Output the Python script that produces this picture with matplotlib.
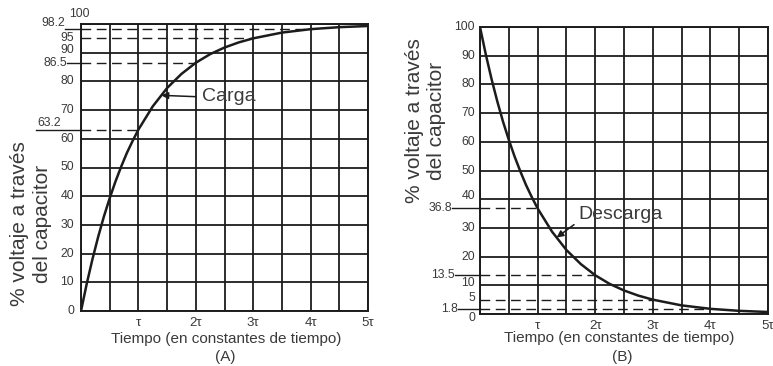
import matplotlib
matplotlib.use('Agg')
import matplotlib.pyplot as plt
import matplotlib.transforms as mtransforms
import numpy as np

plt.rcParams['font.family'] = ['Liberation Sans', 'DejaVu Sans']

# time in time constants, voltage in % of the source
t = [0, 0.1, 0.2, 0.3, 0.4, 0.5, 0.6, 0.7, 0.8, 0.9, 1.0,
     1.25, 1.5, 1.75, 2.0, 2.25, 2.5, 2.75, 3.0, 3.5, 4.0, 4.5, 5.0]
charge = [0, 9.5, 18.1, 25.9, 33.0, 39.3, 45.1, 50.3, 55.1, 59.3, 63.2,
          71.3, 77.7, 82.6, 86.5, 89.5, 91.8, 93.6, 95.0, 97.0, 98.2, 98.9, 99.3]
discharge = [100, 90.5, 81.9, 74.1, 67.0, 60.7, 54.9, 49.7, 44.9, 40.7, 36.8,
             28.7, 22.3, 17.4, 13.5, 10.5, 8.2, 6.4, 5.0, 3.0, 1.8, 1.1, 0.7]

# marked points (time constant, %)
charge_marks_t = [1, 2, 3, 4]
charge_marks_v = [63.2, 86.5, 95, 98.2]
discharge_marks_t = [1, 2, 3, 4]
discharge_marks_v = [36.8, 13.5, 5, 1.8]

x_ticks = [1, 2, 3, 4, 5]
x_tick_labels = ['τ', '2τ', '3τ', '4τ', '5τ']
y_ticks = [0, 10, 20, 30, 40, 50, 60, 70, 80, 90, 100]

LINE = '#1c1c1c'
TEXT = '#3a3a3a'
W, H = 773, 366
TICK_FS = 8.8

fig = plt.figure(figsize=(W / 100, H / 100), dpi=100)
ax_a = fig.add_axes([81 / W, 55 / H, 287 / W, 287 / H])
ax_b = fig.add_axes([480 / W, 52 / H, 288 / W, 287 / H])


def setup(ax):
    ax.set_xlim(0, 5)
    ax.set_ylim(0, 100)
    half = np.arange(0, 5.01, 0.5)
    ax.set_xticks(half)
    ax.set_xticklabels([x_tick_labels[x_ticks.index(int(x))] if x in x_ticks else '' for x in half],
                       fontsize=9.5, color=TEXT)
    ax.set_yticks(y_ticks)
    ax.set_yticklabels([])
    ax.tick_params(length=0, pad=4)
    ax.grid(True, color=LINE, lw=1.3)
    ax.set_axisbelow(True)
    for s in ax.spines.values():
        s.set_color(LINE)
        s.set_linewidth(1.4)


def ylab(ax, val, text, dx, dy=0, ha='right', va='center'):
    tr = (mtransforms.blended_transform_factory(ax.transAxes, ax.transData)
          + mtransforms.ScaledTranslation(dx / 100, dy / 100, fig.dpi_scale_trans))
    ax.text(0, val, text, transform=tr, ha=ha, va=va, fontsize=TICK_FS, color=TEXT, clip_on=False)


def leader(ax, val, dx):
    tr = mtransforms.blended_transform_factory(ax.transAxes, ax.transData)
    w = ax.get_position().width * W
    ax.plot([dx / w, 0], [val, val], transform=tr, color=LINE, lw=1.0, clip_on=False)


def dashed(ax, tm, val):
    ax.plot([0, tm], [val, val], color=LINE, lw=1.0, dashes=(7, 4))


# (A) charging
setup(ax_a)
ax_a.plot(t, charge, color=LINE, lw=1.8, zorder=3)
for tm, v in zip(charge_marks_t, charge_marks_v):
    dashed(ax_a, tm, v)

for v in [0, 10, 20, 30, 40, 50, 60, 70, 80, 95]:
    ylab(ax_a, v, str(v), -7)
ylab(ax_a, 90, '90', -7, dy=2.5)
ylab(ax_a, 100, '100', -2, dy=4, ha='center', va='bottom')
ylab(ax_a, 98.2, '98.2', -16, dy=0.5, va='bottom')
leader(ax_a, 98.2, -16)
ylab(ax_a, 86.5, '86.5', -14)
leader(ax_a, 86.5, -14)
ylab(ax_a, 63.2, '63.2', -44, dy=0.5, ha='left', va='bottom')
leader(ax_a, 63.2, -45)

carga_t = 1.4
ax_a.annotate('Carga', xy=(carga_t, np.interp(carga_t, t, charge)), xytext=(2.1, 74.6),
              fontsize=14, color=TEXT, ha='left', va='center',
              arrowprops=dict(arrowstyle='-|>', color=LINE, lw=1.1, mutation_scale=10,
                              relpos=(0, 0.5), shrinkA=2, shrinkB=0))

# (B) discharging
setup(ax_b)
ax_b.plot(t, discharge, color=LINE, lw=1.8, zorder=3)
for tm, v in zip(discharge_marks_t, discharge_marks_v):
    dashed(ax_b, tm, v)

for v in [20, 30, 50, 60, 70, 80, 90, 100]:
    ylab(ax_b, v, str(v), -5)
ylab(ax_b, 40, '40', -5, dy=3)
ylab(ax_b, 10, '10', -5, dy=2.5)
ylab(ax_b, 5, '5', -5, dy=2)
ylab(ax_b, 0, '0', -5, dy=-4)
ylab(ax_b, 36.8, '36.8', -28)
leader(ax_b, 36.8, -28)
ylab(ax_b, 13.5, '13.5', -25)
leader(ax_b, 13.5, -25)
ylab(ax_b, 1.8, '1.8', -22)
leader(ax_b, 1.8, -22)

descarga_t = 1.33
ax_b.annotate('Descarga', xy=(descarga_t, np.interp(descarga_t, t, discharge)), xytext=(1.7, 34.5),
              fontsize=14, color=TEXT, ha='left', va='center',
              arrowprops=dict(arrowstyle='-|>', color=LINE, lw=1.1, mutation_scale=10,
                              relpos=(0, 0.1), shrinkA=1, shrinkB=0))

# axis titles
ylabel = '% voltaje a través\ndel capacitor'
xlabel = 'Tiempo (en constantes de tiempo)'
fig.text(31 / W, 1 - 224 / H, ylabel, rotation=90, ha='center', va='center',
         fontsize=15, color=TEXT, linespacing=1.2)
fig.text(426 / W, 1 - 121 / H, ylabel, rotation=90, ha='center', va='center',
         fontsize=15, color=TEXT, linespacing=1.2)
fig.text(226 / W, 1 - 339 / H, xlabel, ha='center', va='center', fontsize=11, color=TEXT)
fig.text(619 / W, 1 - 338 / H, xlabel, ha='center', va='center', fontsize=11, color=TEXT)
fig.text(225 / W, 1 - 357 / H, '(A)', ha='center', va='center', fontsize=11, color=TEXT)
fig.text(622 / W, 1 - 357 / H, '(B)', ha='center', va='center', fontsize=11, color=TEXT)

fig.savefig('out.png', dpi=100, facecolor='white')
